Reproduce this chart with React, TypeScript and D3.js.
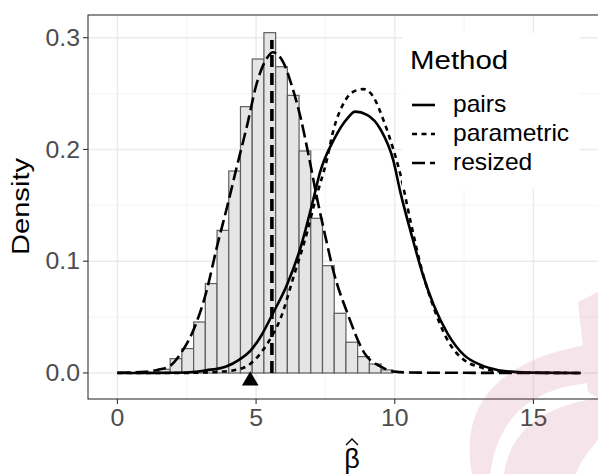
import React from "react";
import * as d3 from "d3";

// ---- data ----
const histStart = 1.48;
const histBinWidth = 0.4225;
const histDensity = [
  0.0033, 0.0128, 0.0218, 0.0456, 0.08, 0.1276, 0.1807, 0.2383, 0.2809, 0.3045,
  0.274, 0.2484, 0.1986, 0.1384, 0.096, 0.0534, 0.0275, 0.0146, 0.008, 0.0027,
];

const pairsX = [0, 1, 2, 2.6, 3.2, 3.9, 4.4, 4.8, 5.2, 5.6, 6.1, 6.6, 7.07, 7.3, 7.8, 8.3, 8.57, 9.0, 9.5, 9.95, 10.2, 10.6, 11.0, 11.4, 11.9, 12.5, 13.1, 13.7, 14.3, 15, 16.7];
const pairsY = [0, 0, 0.0002, 0.0006, 0.0024, 0.0056, 0.012, 0.02, 0.034, 0.053, 0.078, 0.112, 0.156, 0.179, 0.2085, 0.228, 0.2338, 0.231, 0.2174, 0.19, 0.162, 0.124, 0.089, 0.061, 0.0355, 0.016, 0.0072, 0.0027, 0.001, 0.0003, 0];

const paramX = [0, 2, 3, 3.6, 4.2, 4.8, 5.4, 5.9, 6.35, 6.83, 7.13, 7.55, 7.79, 8.15, 8.51, 8.87, 9.23, 9.59, 9.95, 10.2, 10.6, 11.0, 11.3, 11.9, 12.5, 13.1, 13.6, 14.5, 16.7];
const paramY = [0, 0, 0.0003, 0.001, 0.0024, 0.0083, 0.026, 0.05, 0.086, 0.125, 0.154, 0.1906, 0.2174, 0.241, 0.2517, 0.254, 0.247, 0.2264, 0.2, 0.178, 0.132, 0.09, 0.066, 0.0295, 0.0116, 0.005, 0.0018, 0.0003, 0];

const resizedX = [0, 0.5, 1.0, 1.5, 1.9, 2.3, 2.7, 3.2, 3.6, 4.0, 4.3, 4.7, 5.0, 5.4, 5.6, 6.0, 6.3, 6.6, 6.9, 7.2, 7.5, 7.8, 8.3, 8.9, 9.5, 10.0, 10.5, 11.5, 13, 15, 16.7];
const resizedY = [0.0002, 0.0005, 0.001, 0.003, 0.0063, 0.018, 0.036, 0.072, 0.114, 0.153, 0.184, 0.224, 0.257, 0.282, 0.287, 0.277, 0.256, 0.229, 0.194, 0.156, 0.122, 0.09, 0.053, 0.018, 0.0056, 0.0012, 0.0004, 0.0002, 0.0001, 0, 0];

const vlineX = 5.57;
const vlineTop = 0.298;
const markerX = 4.79;
const markerY = -0.007;

const xMajor = [0, 5, 10, 15];
const xMinor = [2.5, 7.5, 12.5];
const yMajor = [0, 0.1, 0.2, 0.3];
const yMinor = [0.05, 0.15, 0.25];
const yTickLabels = ["0.0", "0.1", "0.2", "0.3"];
const xTickLabels = ["0", "5", "10", "15"];

const legendTitle = "Method";
const legendLabels = ["pairs", "parametric", "resized"];
const legendDash = ["none", "5,4.5", "13,5"];

// ---- layout ----
const W = 598;
const H = 474;
const P = { left: 88, right: 600, top: 15, bottom: 399 };
const FONT = "'Liberation Sans', Arial, Helvetica, sans-serif";

function SText({ x, y, size, sx = 1, anchor = "start", rotate = 0, fill = "#000", dy = "0", children }: any) {
  return (
    <text
      transform={`translate(${x},${y}) rotate(${rotate}) scale(${sx},1)`}
      fontSize={size}
      textAnchor={anchor}
      fill={fill}
      dy={dy}
      fontFamily={FONT}
    >
      {children}
    </text>
  );
}

export default function App() {
  const x = d3.scaleLinear().domain([-1.06, 17.4]).range([P.left, P.right]);
  const y = d3.scaleLinear().domain([-0.0233, 0.3203]).range([P.bottom, P.top]);

  const line = d3
    .line<[number, number]>()
    .x((d) => x(d[0]))
    .y((d) => y(d[1]))
    .curve(d3.curveMonotoneX);

  const zip = (a: number[], b: number[]) => a.map((v, i) => [v, b[i]] as [number, number]);

  const bins = histDensity.map((dens, i) => ({
    x0: histStart + i * histBinWidth,
    x1: histStart + (i + 1) * histBinWidth,
    d: dens,
  }));

  const tri = d3.symbol().type(d3.symbolTriangle).size(120)() as string;

  const legendY = [105, 134, 163];

  const titleX = 352;
  const titleY = 468;

  return (
    <svg
      width={W}
      height={H}
      style={{ position: "absolute", left: 0, top: 0, background: "#fff" }}
    >
      <defs>
        <clipPath id="panel">
          <rect x={P.left} y={P.top} width={P.right - P.left} height={P.bottom - P.top} />
        </clipPath>
      </defs>
      <rect x={0} y={0} width={W} height={H} fill="#fff" />

      {/* grid */}
      <g clipPath="url(#panel)">
        {xMinor.map((v) => (
          <line key={"xm" + v} x1={x(v)} x2={x(v)} y1={P.top} y2={P.bottom} stroke="#F2F2F2" strokeWidth={0.8} />
        ))}
        {yMinor.map((v) => (
          <line key={"ym" + v} x1={P.left} x2={P.right} y1={y(v)} y2={y(v)} stroke="#F2F2F2" strokeWidth={0.8} />
        ))}
        {xMajor.map((v) => (
          <line key={"xM" + v} x1={x(v)} x2={x(v)} y1={P.top} y2={P.bottom} stroke="#EBEBEB" strokeWidth={1.4} />
        ))}
        {yMajor.map((v) => (
          <line key={"yM" + v} x1={P.left} x2={P.right} y1={y(v)} y2={y(v)} stroke="#EBEBEB" strokeWidth={1.4} />
        ))}

        {/* histogram */}
        {bins.map((b, i) => (
          <rect
            key={"b" + i}
            x={x(b.x0)}
            y={y(b.d)}
            width={x(b.x1) - x(b.x0)}
            height={y(0) - y(b.d)}
            fill="#E5E5E5"
            stroke="#5E5E5E"
            strokeWidth={1.2}
          />
        ))}

        {/* vertical dashed segment */}
        <line
          x1={x(vlineX)}
          x2={x(vlineX)}
          y1={y(0)}
          y2={y(vlineTop)}
          stroke="#000"
          strokeWidth={3.6}
          strokeDasharray="12,6"
        />

        {/* density curves */}
        <path d={line(zip(pairsX, pairsY)) as string} fill="none" stroke="#000" strokeWidth={2.6} />
        <path d={line(zip(paramX, paramY)) as string} fill="none" stroke="#000" strokeWidth={2.6} strokeDasharray="5,4.5" />
        <path d={line(zip(resizedX, resizedY)) as string} fill="none" stroke="#000" strokeWidth={2.6} strokeDasharray="13,5" />

        {/* marker */}
        <path d={tri} transform={`translate(${x(markerX)},${y(markerY)})`} fill="#000" />

        {/* legend */}
        <rect x={402} y={33} width={178} height={155} fill="#fff" />
        <SText x={410} y={69} size={25.6} sx={1.15}>{legendTitle}</SText>
        {legendLabels.map((lab, i) => (
          <g key={lab}>
            <line
              x1={412}
              x2={435}
              y1={legendY[i]}
              y2={legendY[i]}
              stroke="#000"
              strokeWidth={2.6}
              strokeDasharray={legendDash[i] === "none" ? undefined : legendDash[i]}
            />
            <SText x={453} y={legendY[i]} dy="0.3em" size={23} sx={1.07}>{lab}</SText>
          </g>
        ))}
      </g>

      {/* panel border */}
      <rect
        x={P.left}
        y={P.top}
        width={P.right - P.left}
        height={P.bottom - P.top}
        fill="none"
        stroke="#333"
        strokeWidth={1.1}
      />

      {/* y axis */}
      {yMajor.map((v, i) => (
        <g key={"yt" + v}>
          <line x1={P.left - 5} x2={P.left} y1={y(v)} y2={y(v)} stroke="#333" strokeWidth={1.1} />
          <SText x={P.left - 8} y={y(v)} dy="0.36em" size={23} sx={1.08} anchor="end" fill="#4D4D4D">
            {yTickLabels[i]}
          </SText>
        </g>
      ))}
      {/* x axis */}
      {xMajor.map((v, i) => (
        <g key={"xt" + v}>
          <line x1={x(v)} x2={x(v)} y1={P.bottom} y2={P.bottom + 5} stroke="#333" strokeWidth={1.1} />
          <SText x={x(v)} y={426} size={23} sx={1.08} anchor="middle" fill="#4D4D4D">
            {xTickLabels[i]}
          </SText>
        </g>
      ))}

      {/* axis titles */}
      <SText x={29.4} y={206.5} size={23.3} sx={1.25} rotate={-90} anchor="middle">Density</SText>
      <SText x={titleX} y={titleY} size={27} anchor="middle">β</SText>
      <polyline
        points={`${titleX - 6},${titleY - 23} ${titleX},${titleY - 29} ${titleX + 6},${titleY - 23}`}
        fill="none"
        stroke="#000"
        strokeWidth={1.4}
      />

      {/* watermark */}
      <g fill="#B03060" opacity={0.12}>
        <path d="M 472 474 C 462 420 480 360 598 343 L 598 382 C 545 386 500 405 490 474 Z" />
        <path d="M 504 474 C 510 435 535 408 598 398 L 598 440 C 588 452 580 462 576 474 Z" />
        <path d="M 578 302 L 598 292 L 598 398 L 588 392 Z" />
      </g>
    </svg>
  );
}
